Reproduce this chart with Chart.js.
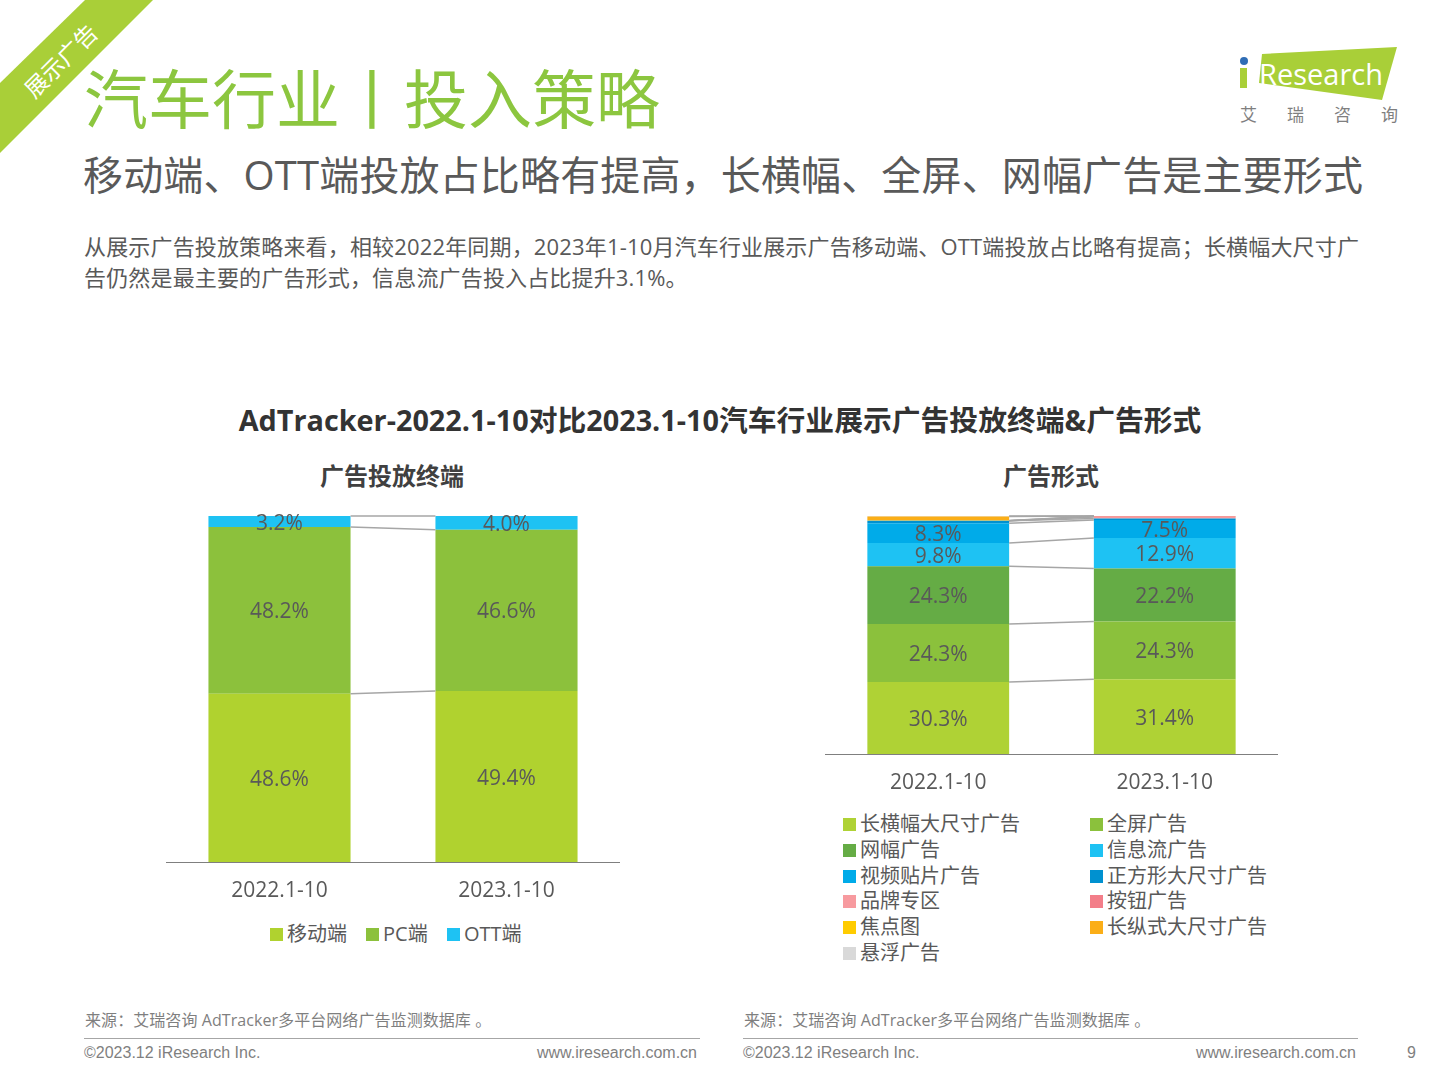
<!DOCTYPE html>
<html lang="zh-CN">
  <head>
    <meta charset="UTF-8" />
    <title>汽车行业 投入策略</title>
    <style>
      html, body { margin: 0; padding: 0; background: #fff; }
      body {
        position: relative;
        width: 1440px;
        height: 1080px;
        overflow: hidden;
        font-family: "Open Sans", "Noto Sans CJK SC", sans-serif;
        color: #595959;
      }
      .abs { position: absolute; white-space: nowrap; }
      canvas { position: absolute; }
      .ribbon, .logo { position: absolute; left: 0; top: 0; }
      .corner-text {
        left: 60px; top: 60px; font-size: 23px; color: #fff;
        transform: translate(-50%, -50%) rotate(-45deg);
      }
      .title { left: 84px; top: 56px; font-size: 64px; line-height: 86px; color: #8cc63f; font-weight: 400; }
      .subtitle { left: 83px; top: 147px; font-size: 40px; line-height: 56px; letter-spacing: 0.15px; color: #595959; }
      .body-line { left: 84px; font-size: 22px; line-height: 32px; letter-spacing: 0.16px; color: #595959; }
      .main-head { left: 0; width: 1440px; top: 400px; text-align: center; font-size: 28.8px; line-height: 40px; font-weight: 700; color: #333; }
      .chart-head { top: 459px; font-size: 24px; line-height: 34px; font-weight: 700; color: #404040; transform: translateX(-50%); }
      .legend-item { font-size: 20px; line-height: 26px; color: #595959; }
      .legend-item i { position: absolute; left: -17px; top: 7px; width: 13px; height: 13px; }
      .source { top: 1009px; font-size: 16px; line-height: 22px; letter-spacing: 0.07px; color: #7f7f7f; }
      .rule { top: 1038px; height: 1px; background: #a6a6a6; }
      .foot { top: 1044px; font-family: "Liberation Sans", sans-serif; font-size: 16px; line-height: 18px; color: #7f7f7f; }
      .logo-sub { top: 104px; font-size: 17px; line-height: 22px; color: #7f7f7f; }
    </style>
  </head>
  <body>
    <svg class="ribbon" width="160" height="160">
      <polygon points="0,83 85,0 153,0 0,153" fill="#a9cf38" />
    </svg>
    <div class="abs corner-text">展示广告</div>

    <div class="abs title">汽车行业丨投入策略</div>
    <div class="abs subtitle">移动端、OTT端投放占比略有提高，长横幅、全屏、网幅广告是主要形式</div>
    <div class="abs body-line" style="top: 230px">从展示广告投放策略来看，相较2022年同期，2023年1-10月汽车行业展示广告移动端、OTT端投放占比略有提高；长横幅大尺寸广</div>
    <div class="abs body-line" style="top: 261px">告仍然是最主要的广告形式，信息流广告投入占比提升3.1%。</div>

    <svg class="logo" width="1440" height="130">
      <polygon points="1262,54 1397,47 1382,100 1259,83" fill="#a9cf38" />
      <rect x="1240" y="68" width="7" height="20" fill="#a9cf38" />
      <circle cx="1244" cy="61" r="4" fill="#2f6db5" />
    </svg>
    <div class="abs" style="left: 1259px; top: 54px; font-size: 29px; line-height: 40px; color: #fff">Research</div>
    <div class="abs logo-sub" style="left: 1240px">艾</div>
    <div class="abs logo-sub" style="left: 1287px">瑞</div>
    <div class="abs logo-sub" style="left: 1334px">咨</div>
    <div class="abs logo-sub" style="left: 1381px">询</div>

    <div class="abs main-head">AdTracker-2022.1-10对比2023.1-10汽车行业展示广告投放终端&amp;广告形式</div>
    <div class="abs chart-head" style="left: 392px">广告投放终端</div>
    <div class="abs chart-head" style="left: 1051px">广告形式</div>

    <canvas id="chartTerminal"></canvas>
    <canvas id="chartFormat"></canvas>
    <div id="legendTerminal"></div>
    <div id="legendFormat"></div>

    <div class="abs source" style="left: 85px">来源：艾瑞咨询 AdTracker多平台网络广告监测数据库 。</div>
    <div class="abs source" style="left: 744px">来源：艾瑞咨询 AdTracker多平台网络广告监测数据库 。</div>
    <div class="abs rule" style="left: 84px; width: 616px"></div>
    <div class="abs rule" style="left: 743px; width: 615px"></div>
    <div class="abs foot" style="left: 84px">©2023.12 iResearch Inc.</div>
    <div class="abs foot" style="right: 743px">www.iresearch.com.cn</div>
    <div class="abs foot" style="left: 743px">©2023.12 iResearch Inc.</div>
    <div class="abs foot" style="right: 84px">www.iresearch.com.cn</div>
    <div class="abs foot" style="left: 1407px">9</div>

    <script src="https://cdn.jsdelivr.net/npm/chart.js"></script>
    <script>
      const periods = ["2022.1-10", "2023.1-10"];

      const terminalNames = ["移动端", "PC端", "OTT端"];
      const terminalMobile = [48.6, 49.4];
      const terminalPc = [48.2, 46.6];
      const terminalOtt = [3.2, 4.0];
      const terminalColors = ["#b0d22f", "#8cc13c", "#1ec2f3"];

      const formatNames = [
        "长横幅大尺寸广告", "全屏广告", "网幅广告", "信息流广告", "视频贴片广告", "正方形大尺寸广告",
        "品牌专区", "按钮广告", "焦点图", "长纵式大尺寸广告", "悬浮广告",
      ];
      const formatBanner = [30.3, 31.4];
      const formatFull = [24.3, 24.3];
      const formatWeb = [24.3, 22.2];
      const formatFeed = [9.8, 12.9];
      const formatVideo = [8.3, 7.5];
      const formatSquare = [1.0, 0.7];
      const formatBrand = [0.0, 0.6];
      const formatButton = [0.0, 0.3];
      const formatFocus = [0.1, 0.0];
      const formatTall = [1.7, 0.1];
      const formatFloat = [0.2, 0.0];
      const formatColors = [
        "#afd235", "#8bc13c", "#65ac45", "#1ec2f3", "#00abe9", "#0091d0",
        "#f79a9f", "#f37e89", "#ffcc00", "#fbae17", "#d9d9d9",
      ];

      // connector lines between the two stacks + the % labels inside segments
      const stackExtras = {
        id: "stackExtras",
        afterDatasetsDraw(chart) {
          const { ctx } = chart;
          ctx.save();
          ctx.strokeStyle = "#a6a6a6";
          ctx.lineWidth = 1.5;
          chart.data.datasets.forEach((ds, i) => {
            const [a, b] = chart.getDatasetMeta(i).data;
            ctx.beginPath();
            ctx.moveTo(a.x + a.width / 2, a.y);
            ctx.lineTo(b.x - b.width / 2, b.y);
            ctx.stroke();
          });
          ctx.font = '21px "Open Sans", sans-serif';
          ctx.fillStyle = "#595959";
          ctx.textAlign = "center";
          ctx.textBaseline = "middle";
          chart.data.datasets.forEach((ds, i) => {
            chart.getDatasetMeta(i).data.forEach((bar, j) => {
              if (ds.data[j] < 3) return;
              ctx.fillText(ds.data[j].toFixed(1) + "%", bar.x, (bar.y + bar.base) / 2 + 2);
            });
          });
          ctx.restore();
        },
      };

      function makeChart(id, box, names, colors, series) {
        const canvas = document.getElementById(id);
        canvas.style.left = box.left + "px";
        canvas.style.top = box.top + "px";
        canvas.width = box.width;
        canvas.height = box.height;
        return new Chart(canvas, {
          type: "bar",
          data: {
            labels: periods,
            datasets: series.map((data, i) => ({
              label: names[i],
              data: data,
              backgroundColor: colors[i],
              borderWidth: 0,
              barPercentage: 0.626,
              categoryPercentage: 1,
            })),
          },
          plugins: [stackExtras],
          options: {
            responsive: false,
            animation: false,
            devicePixelRatio: 1,
            layout: { padding: { top: 10 } },
            plugins: { legend: { display: false }, tooltip: { enabled: false } },
            scales: {
              x: {
                stacked: true,
                grid: { display: false, drawTicks: false },
                border: { color: "#7f7f7f", width: 1 },
                ticks: { color: "#595959", font: { size: 21, family: '"Open Sans"' }, padding: 16, maxRotation: 0 },
                afterFit(scale) { scale.height = 44; },
              },
              y: { stacked: true, display: false, min: 0, max: 100 },
            },
          },
        });
      }

      makeChart("chartTerminal", { left: 166, top: 506, width: 454, height: 400 }, terminalNames, terminalColors,
        [terminalMobile, terminalPc, terminalOtt]);
      makeChart("chartFormat", { left: 825, top: 506, width: 453, height: 292 }, formatNames, formatColors,
        [formatBanner, formatFull, formatWeb, formatFeed, formatVideo, formatSquare,
         formatBrand, formatButton, formatFocus, formatTall, formatFloat]);

      function addLegend(id, names, colors, place) {
        const el = document.getElementById(id);
        names.forEach((name, i) => {
          const item = document.createElement("div");
          item.className = "abs legend-item";
          const pos = place(i);
          item.style.left = pos.x + "px";
          item.style.top = pos.y + "px";
          const swatch = document.createElement("i");
          swatch.style.background = colors[i];
          item.appendChild(swatch);
          item.appendChild(document.createTextNode(name));
          el.appendChild(item);
        });
      }

      const terminalLegendX = [287, 383, 464];
      addLegend("legendTerminal", terminalNames, terminalColors, (i) => ({ x: terminalLegendX[i], y: 921 }));
      addLegend("legendFormat", formatNames, formatColors, (i) => ({
        x: i % 2 ? 1107 : 860,
        y: 811 + Math.floor(i / 2) * 25.8,
      }));
    </script>
  </body>
</html>
